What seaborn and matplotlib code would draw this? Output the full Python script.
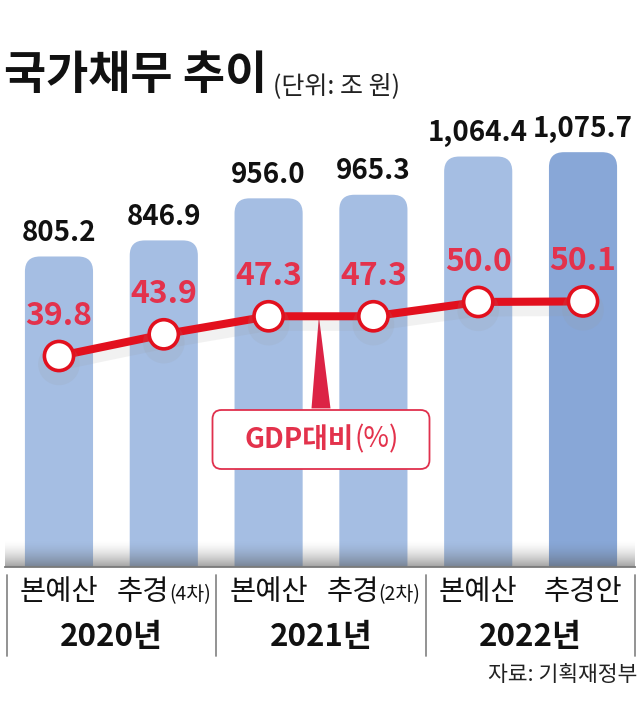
import numpy as np
import pandas as pd
import matplotlib
matplotlib.use("Agg")
import matplotlib.pyplot as plt
import matplotlib.patheffects as pe
import matplotlib.transforms as mtransforms
from matplotlib.patches import FancyBboxPatch, Polygon
from matplotlib.lines import Line2D
import seaborn as sns

# ---------------- data ----------------
keys = ["2020 본예산", "2020 추경", "2021 본예산", "2021 추경", "2022 본예산", "2022 추경안"]
cat_main = ["본예산", "추경", "본예산", "추경", "본예산", "추경안"]
cat_sub = ["", "(4차)", "", "(2차)", "", ""]
years = ["2020년", "2021년", "2022년"]
debt = [805.2, 846.9, 956.0, 965.3, 1064.4, 1075.7]          # 조 원
gdp_ratio = [39.8, 43.9, 47.3, 47.3, 50.0, 50.1]              # GDP 대비 %

bar_colors = ["#A5BEE3", "#A5BEE3", "#A5BEE3", "#A5BEE3", "#A5BEE3", "#88A7D7"]
RED_LINE = "#E2101E"
RED_TEXT = "#E3324C"

sns.set_theme(style="white")
plt.rcParams['font.family'] = ['Noto Sans CJK KR', 'DejaVu Sans']

W, H = 640, 717
fig = plt.figure(figsize=(W / 100, H / 100), dpi=100)
fig.patch.set_facecolor("white")

ax_l, ax_r, ax_b, ax_t = 5, 635, 567, 100
ax = fig.add_axes([ax_l / W, (H - ax_b) / H, (ax_r - ax_l) / W, (ax_b - ax_t) / H])

df = pd.DataFrame({"key": keys, "debt": debt})
sns.barplot(data=df, x="key", y="debt", hue="key", palette=bar_colors,
            width=0.65, saturation=1, legend=False, ax=ax)

xlim = (-0.515, 5.496)
ylim_bar = (0, 1211)
ylim_line = (0, 88.1)
ax.set_xlim(*xlim)
ax.set_ylim(*ylim_bar)

ax_w_px = ax_r - ax_l
ax_h_px = ax_b - ax_t
px_per_x = ax_w_px / (xlim[1] - xlim[0])

# rounded-top bars built from the seaborn bar geometry
aspect_bar = px_per_x / (ax_h_px / (ylim_bar[1] - ylim_bar[0]))
r = 15 / px_per_x
for p in list(ax.patches):
    x0, w, h = p.get_x(), p.get_width(), p.get_height()
    fc = p.get_facecolor()
    p.remove()
    ext = r * aspect_bar
    fb = FancyBboxPatch((x0, -ext), w, h + ext,
                        boxstyle=f"round,pad=0,rounding_size={r}",
                        mutation_aspect=aspect_bar, fc=fc, ec="none", zorder=2)
    ax.add_patch(fb)

# value labels on bars
for i, v in enumerate(debt):
    ax.annotate(f"{v:,.1f}", xy=(i, v), xytext=(0, 17), textcoords="offset points",
                ha="center", va="center", fontsize=20, fontweight="bold", color="#111111",
                zorder=5)

# bottom shading gradient
n = 100
t = np.linspace(0, 1, n)[:, None]
grad = np.zeros((n, 1, 4))
grad[..., 0:3] = 0.33
grad[..., 3] = 0.55 * (t ** 1.6)
ax.imshow(grad, extent=[0, 1, 0, 27 / ax_h_px], transform=ax.transAxes,
          aspect="auto", origin="upper", zorder=3, interpolation="bicubic")
ax.set_xlim(*xlim)
ax.set_ylim(*ylim_bar)

for s in ["top", "left", "right"]:
    ax.spines[s].set_visible(False)
ax.spines["bottom"].set_color("#7a7a7a")
ax.spines["bottom"].set_linewidth(1.3)
ax.spines["bottom"].set_zorder(4)
ax.set_xticks([])
ax.set_yticks([])
ax.set_xlabel("")
ax.set_ylabel("")

# ---------------- line (GDP ratio) ----------------
ax2 = ax.twinx()
sns.lineplot(x=np.arange(len(gdp_ratio)), y=gdp_ratio, ax=ax2, color=RED_LINE,
             linewidth=5.8, marker="o", markersize=21, markerfacecolor="white",
             markeredgecolor=RED_LINE, markeredgewidth=2.6, zorder=6,
             path_effects=[pe.SimpleLineShadow(offset=(0, -6), shadow_color="#999999",
                                               alpha=0.13, linewidth=9), pe.Normal()])
ax2.set_xlim(*xlim)
ax2.set_ylim(*ylim_line)
ax2.set_yticks([])
ax2.set_ylabel("")
for s in ax2.spines.values():
    s.set_visible(False)

for i, v in enumerate(gdp_ratio):
    ax2.annotate(f"{v:.1f}", xy=(i, v), xytext=(0, 29), textcoords="offset points",
                 ha="center", va="center", fontsize=23, fontweight="bold",
                 color=RED_TEXT, zorder=7)

# callout "GDP대비(%)"
px_per_y2 = ax_h_px / (ylim_line[1] - ylim_line[0])
aspect_line = px_per_x / px_per_y2
cx = 2.5
box_top = (ax_b - 410) / px_per_y2
box_bot = (ax_b - 469) / px_per_y2
box_w = 217 / px_per_x
half_base = 9.5 / px_per_x
tri = Polygon([[cx - half_base, box_top + 0.3], [cx + half_base, box_top + 0.3],
               [cx - 0.02, gdp_ratio[2]]], closed=True, fc="#DC2345", ec="none", zorder=4)
ax2.add_patch(tri)
box = FancyBboxPatch((cx - box_w / 2, box_bot), box_w, box_top - box_bot,
                     boxstyle=f"round,pad=0,rounding_size={9 / px_per_x}",
                     mutation_aspect=aspect_line, fc="white", ec="#E0304D", lw=1.3, zorder=5)
ax2.add_patch(box)
box_cy = (box_top + box_bot) / 2
t1 = ax2.text(cx, box_cy, "GDP대비", ha="left", va="center", fontsize=20,
              fontweight="bold", color=RED_TEXT, zorder=8)
t2 = ax2.annotate("(%)", xy=(1, 0.5), xycoords=t1, xytext=(1, 0), textcoords="offset points",
                  ha="left", va="center", fontsize=20, fontweight="light", color=RED_TEXT, zorder=8)

# ---------------- category / year labels ----------------
blend = mtransforms.blended_transform_factory(ax.transData, fig.transFigure)
y_cat = 1 - 592 / H
y_year = 1 - 637 / H
pairs = []
for i, (m, s) in enumerate(zip(cat_main, cat_sub)):
    tm = ax.text(i, y_cat, m, transform=blend, ha="left", va="center",
                 fontsize=20.5, fontweight="light", color="#111111")
    ts = None
    if s:
        ts = ax.annotate(s, xy=(1, 0.0), xycoords=tm, xytext=(0, 1), textcoords="offset points",
                         ha="left", va="bottom", fontsize=14, fontweight="light", color="#111111")
    pairs.append((i, tm, ts))

for k, yr in enumerate(years):
    ax.text(2 * k + 0.5, y_year, yr, transform=blend, ha="center", va="center",
            fontsize=22.5, fontweight="bold", color="#111111")

for xd in [-0.5, 1.5, 3.5, 5.5]:
    ax.add_line(Line2D([xd, xd], [1 - 575 / H, 1 - 656 / H], transform=blend,
                       color="#8a8a8a", lw=1.3, clip_on=False))

# title
t_title = fig.text(4 / W, 1 - 89 / H, "국가채무 추이", ha="left", va="baseline",
                   fontsize=33, fontweight="bold", color="#111111")
t_unit = plt.annotate("(단위: 조 원)", xy=(1, 0), xycoords=t_title, xytext=(4, 0),
                      textcoords="offset points", ha="left", va="bottom",
                      fontsize=18, fontweight="light", color="#222222",
                      annotation_clip=False)

# source
fig.text(637 / W, 1 - 675 / H, "자료: 기획재정부", ha="right", va="center",
         fontsize=15.5, fontweight="light", color="#222222")

# ---------------- centering of composite texts ----------------
fig.canvas.draw()
renderer = fig.canvas.get_renderer()

def center_group(t_main, t_sub, x_center_disp, trans):
    w1 = t_main.get_window_extent(renderer).width
    w2 = t_sub.get_window_extent(renderer).width if t_sub is not None else 0
    total = w1 + w2
    x_disp = x_center_disp - total / 2
    xd, yd = t_main.get_position()
    y_disp = trans.transform((xd, yd))[1]
    new = trans.inverted().transform((x_disp, y_disp))
    t_main.set_position((new[0], yd))

for i, tm, ts in pairs:
    xc = ax.transData.transform((i, 0))[0]
    center_group(tm, ts, xc, blend)

xc_box = ax2.transData.transform((cx, box_cy))[0]
center_group(t1, t2, xc_box, ax2.transData)

fig.savefig("out.png", dpi=100, facecolor="white")
